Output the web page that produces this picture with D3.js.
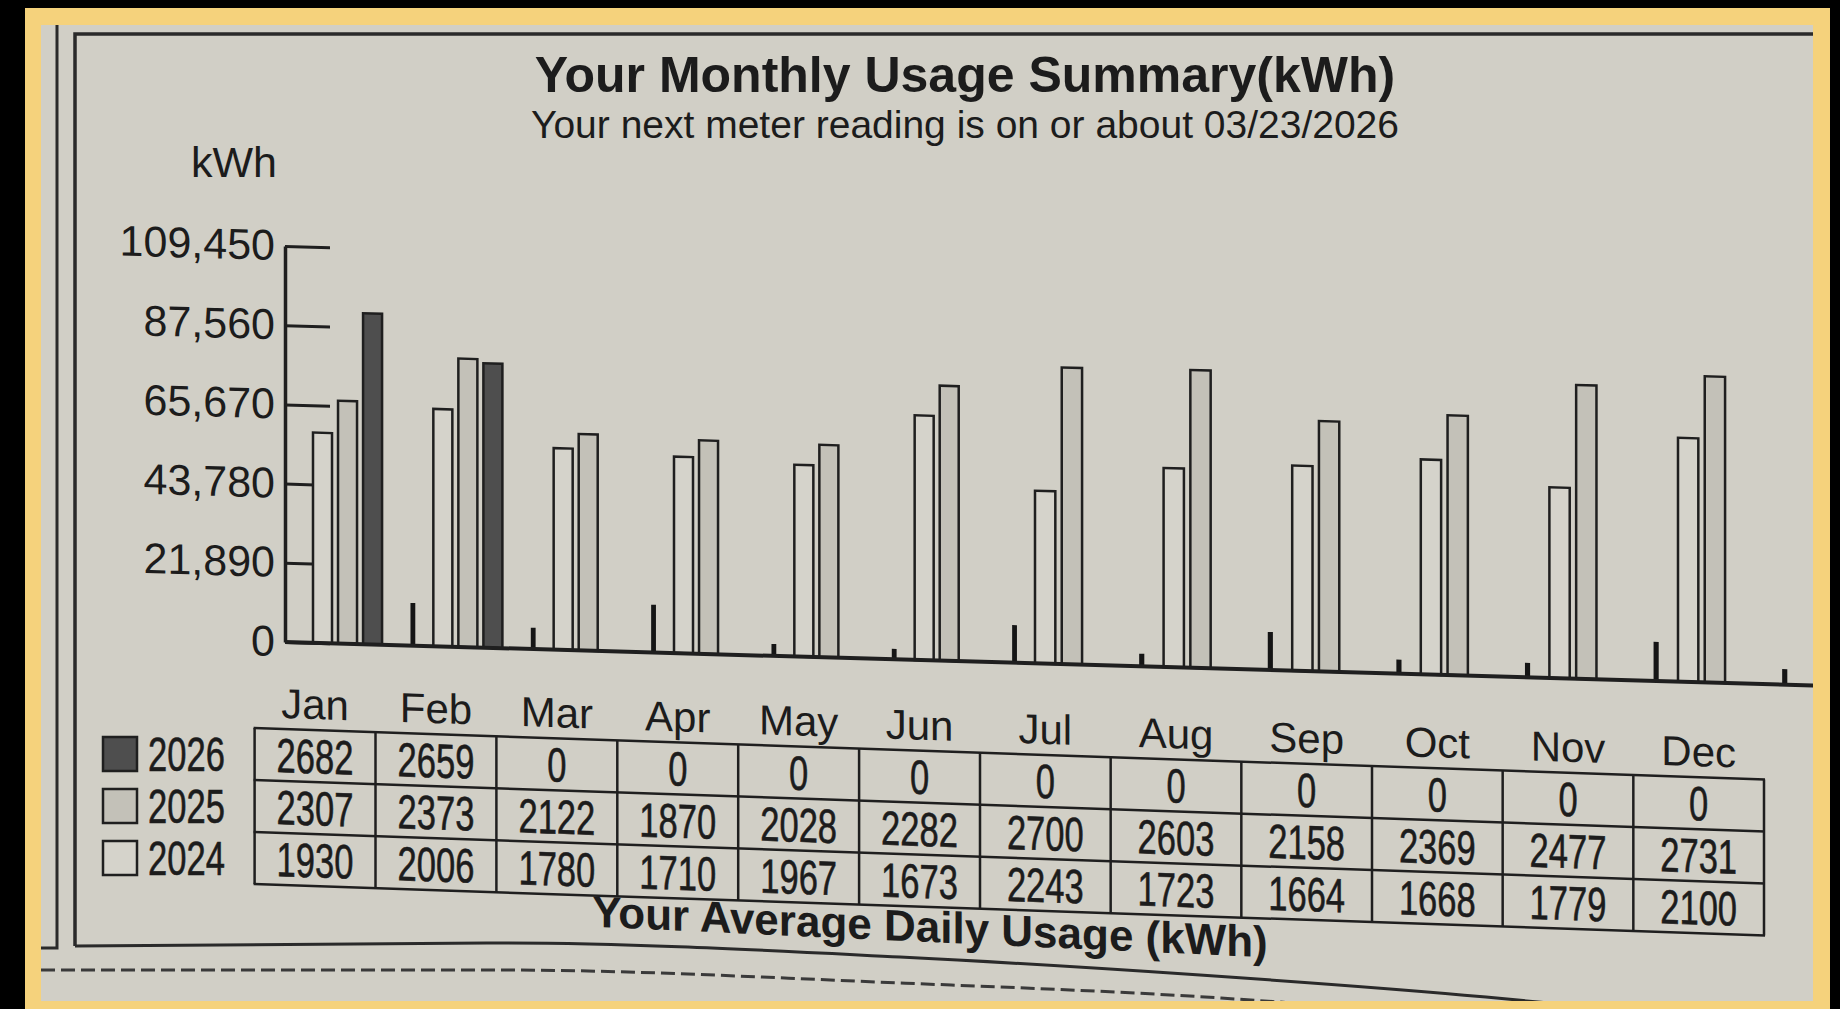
<!DOCTYPE html>
<html>
<head>
<meta charset="utf-8">
<script src="https://cdn.jsdelivr.net/npm/d3@7"></script>
<style>
html, body { margin: 0; padding: 0; background: #000; }
svg { display: block; }
text { font-family: "Liberation Sans", Arial, sans-serif; fill: #1c1c1c; }
</style>
</head>
<body>
<div id="usage-chart"></div>
<script>
var months = ["Jan","Feb","Mar","Apr","May","Jun","Jul","Aug","Sep","Oct","Nov","Dec"];
var years = ["2026","2025","2024"];

// monthly kWh (bar heights)
var kwh2024 = [58100,65600,55700,54300,53000,67600,47700,55000,56700,59400,52700,67400];
var kwh2025 = [67100,79700,59800,59000,58700,76000,82000,82300,69200,71800,81200,84600];
var kwh2026 = [91500,78600,0,0,0,0,0,0,0,0,0,0];

// small black stubs printed before each month group (last one after Dec)
var stubs = [0,11800,5900,13200,3300,2900,10400,3500,10500,3900,4000,10800,4300];

// average daily usage table
var daily2026 = [2682,2659,0,0,0,0,0,0,0,0,0,0];
var daily2025 = [2307,2373,2122,1870,2028,2282,2700,2603,2158,2369,2477,2731];
var daily2024 = [1930,2006,1780,1710,1967,1673,2243,1723,1664,1668,1779,2100];

var yTicks = [0,21890,43780,65670,87560,109450];

var W = 1840, H = 1009;
var paper = "#d1cfc6", ink = "#1f1f1f";
var fills = {"2024": "#d5d3cb", "2025": "#c3c1b8", "2026": "#4e4e4e"};

var svg = d3.select("#usage-chart").append("svg")
  .attr("width", W).attr("height", H);

// photo border
svg.append("rect").attr("width", W).attr("height", H).attr("fill", "#000");
svg.append("rect").attr("x", 25).attr("y", 8).attr("width", 1805).attr("height", H - 8).attr("fill", "#f5d27c");
svg.append("rect").attr("x", 41).attr("y", 25).attr("width", 1772).attr("height", 976).attr("fill", paper);

svg.append("clipPath").attr("id", "paper-clip")
  .append("rect").attr("x", 41).attr("y", 25).attr("width", 1772).attr("height", 976);

var page = svg.append("g").attr("clip-path", "url(#paper-clip)");

// frame lines of the bill
page.append("path").attr("d", "M57,25V948H41")
  .attr("fill", "none").attr("stroke", "#2a2a2a").attr("stroke-width", 3);
page.append("path").attr("d", "M1830,34H75V946")
  .attr("fill", "none").attr("stroke", "#2a2a2a").attr("stroke-width", 3.5);
var curve = d3.line().curve(d3.curveMonotoneX);
page.append("path")
  .attr("d", curve([[75,946],[500,943],[900,957],[1200,975],[1486,997],[1580,1006]]))
  .attr("fill", "none").attr("stroke", "#2a2a2a").attr("stroke-width", 3);
page.append("path")
  .attr("d", curve([[41,970],[500,970],[900,983],[1221,998],[1320,1005]]))
  .attr("fill", "none").attr("stroke", "#3a3a3a").attr("stroke-width", 3)
  .attr("stroke-dasharray", "14,6");

// titles
page.append("text").attr("x", 965).attr("y", 92).attr("text-anchor", "middle")
  .style("font-size", "50px").style("font-weight", "bold")
  .text("Your Monthly Usage Summary(kWh)");
page.append("text").attr("x", 965).attr("y", 138).attr("text-anchor", "middle")
  .style("font-size", "39px")
  .text("Your next meter reading is on or about 03/23/2026");
page.append("text").attr("x", 277).attr("y", 177).attr("text-anchor", "end")
  .style("font-size", "43px").text("kWh");

// ---- bar chart ----
var x0 = 285, y0 = 642;
var yscale = d3.scaleLinear().domain([0, 109450]).range([y0, 246]);
// left edge of the 2024 bar of each month (photo perspective -> two segments)
var xscale = d3.scaleLinear().domain([0, 6, 11]).range([313, 1035, 1678]);
var barW = 0.158, barStep = 0.208;

var chart = page.append("g")
  .attr("transform", "translate(" + x0 + "," + y0 + ") skewY(1.63) translate(" + (-x0) + "," + (-y0) + ")");

var yAxis = d3.axisLeft(yscale).tickValues(yTicks)
  .tickSizeInner(-45).tickSizeOuter(0).tickPadding(10)
  .tickFormat(d3.format(","));

var ga = chart.append("g").attr("transform", "translate(" + x0 + ",0)").call(yAxis);
ga.select(".domain").attr("stroke", ink).attr("stroke-width", 3.5);
ga.selectAll(".tick line").attr("stroke", ink).attr("stroke-width", 3);
ga.selectAll(".tick text").attr("fill", ink).style("font-size", "43px")
  .style("font-family", "'Liberation Sans', Arial, sans-serif");

var series = [
  {year: "2024", vals: kwh2024, k: 0},
  {year: "2025", vals: kwh2025, k: 1},
  {year: "2026", vals: kwh2026, k: 2}
];

var bars = [];
series.forEach(function(s) {
  s.vals.forEach(function(v, i) {
    if (v > 0) bars.push({year: s.year, i: i, k: s.k, v: v});
  });
});

chart.selectAll(".bar")
  .data(bars)
  .enter().append("rect")
  .attr("class", "bar")
  .attr("x", d => xscale(d.i + d.k * barStep))
  .attr("width", d => xscale(d.i + d.k * barStep + barW) - xscale(d.i + d.k * barStep))
  .attr("y", d => yscale(d.v))
  .attr("height", d => yscale(0) - yscale(d.v))
  .attr("fill", d => fills[d.year])
  .attr("stroke", ink).attr("stroke-width", 2.5);

chart.selectAll(".stub")
  .data(stubs.map((v, i) => ({i: i, v: v})).filter(d => d.v > 0))
  .enter().append("rect")
  .attr("class", "stub")
  .attr("x", d => xscale(d.i - 0.19))
  .attr("width", d => xscale(d.i - 0.15) - xscale(d.i - 0.19))
  .attr("y", d => yscale(d.v))
  .attr("height", d => yscale(0) - yscale(d.v))
  .attr("fill", "#151515");

// x baseline
chart.append("line")
  .attr("x1", x0).attr("x2", 1840)
  .attr("y1", yscale(0)).attr("y2", yscale(0))
  .attr("stroke", ink).attr("stroke-width", 4);

// ---- daily usage table ----
var tx0 = 254.6, ty0 = 728, rowH = 52;
var colscale = d3.scaleLinear().domain([0, 6, 12]).range([tx0, 980, 1764]);
var rows = [daily2026, daily2025, daily2024];

var table = page.append("g")
  .attr("transform", "translate(" + tx0 + "," + ty0 + ") skewY(1.95) translate(" + (-tx0) + "," + (-ty0) + ")");

table.selectAll(".month")
  .data(months)
  .enter().append("text")
  .attr("class", "month")
  .attr("x", (d, i) => (colscale(i) + colscale(i + 1)) / 2)
  .attr("y", ty0 - 11)
  .attr("text-anchor", "middle")
  .style("font-size", "42px")
  .text(d => d);

// grid
d3.range(4).forEach(function(r) {
  table.append("line")
    .attr("x1", colscale(0) - 1).attr("x2", colscale(12) + 1)
    .attr("y1", ty0 + r * rowH).attr("y2", ty0 + r * rowH)
    .attr("stroke", ink).attr("stroke-width", 2.5);
});
d3.range(13).forEach(function(c) {
  table.append("line")
    .attr("x1", colscale(c)).attr("x2", colscale(c))
    .attr("y1", ty0).attr("y2", ty0 + 3 * rowH)
    .attr("stroke", ink).attr("stroke-width", 2.5);
});

function condense(sel, f) {
  sel.each(function() {
    var len = this.getComputedTextLength();
    d3.select(this).attr("textLength", len * f).attr("lengthAdjust", "spacingAndGlyphs");
  });
}

rows.forEach(function(vals, r) {
  table.selectAll(".cell-" + r)
    .data(vals)
    .enter().append("text")
    .attr("class", "cell-" + r)
    .attr("x", (d, i) => (colscale(i) + colscale(i + 1)) / 2)
    .attr("y", ty0 + (r + 0.5) * rowH)
    .attr("dy", "0.36em")
    .attr("text-anchor", "middle")
    .style("font-size", "48px")
    .style("stroke", "#1c1c1c").style("stroke-width", 0.6)
    .text(d => d)
    .call(condense, 0.72);
});

// legend
var legend = page.selectAll(".legend")
  .data(years)
  .enter().append("g")
  .attr("class", "legend")
  .attr("transform", (d, r) => "translate(103," + (ty0 + (r + 0.5) * rowH) + ")");
legend.append("rect")
  .attr("x", 0).attr("y", -17).attr("width", 34).attr("height", 34)
  .attr("fill", d => fills[d]).attr("stroke", ink).attr("stroke-width", 2.5);
legend.append("text")
  .attr("x", 45).attr("dy", "0.36em")
  .style("font-size", "48px")
  .style("stroke", "#1c1c1c").style("stroke-width", 0.6)
  .text(d => d)
  .call(condense, 0.72);

// bottom caption
page.append("text")
  .attr("transform", "translate(930,942) skewY(2.6)")
  .attr("text-anchor", "middle")
  .style("font-size", "44px").style("font-weight", "bold")
  .text("Your Average Daily Usage (kWh)");
</script>
</body>
</html>
